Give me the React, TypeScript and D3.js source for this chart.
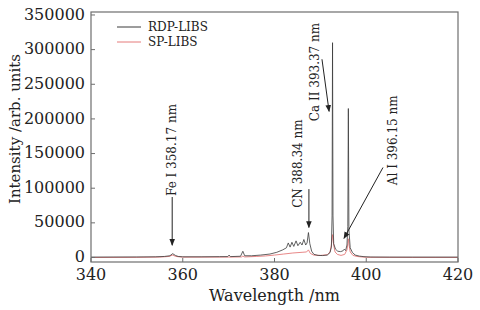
import React from "react";
import * as d3 from "d3";

const W = 480;
const H = 310;

// RDP-LIBS spectrum (wavelength nm, intensity)
const rdpWavelength = [340, 345, 350, 354, 356, 357.2, 357.8, 358.4, 359, 360, 364, 368, 369.8, 370.1, 370.4, 372.6, 373.1, 373.5, 375, 377, 379, 380.5, 381.8, 382.6, 383.0, 383.4, 383.8, 384.2, 384.7, 385.1, 385.6, 386.0, 386.4, 386.8, 387.1, 387.4, 387.7, 388.1, 388.6, 389.5, 390.5, 391.5, 392.1, 392.4, 392.55, 392.65, 392.75, 392.9, 393.3, 393.8, 394.4, 394.9, 395.2, 395.5, 395.8, 395.98, 396.1, 396.22, 396.5, 397, 397.6, 398.5, 399.5, 401, 405, 410, 415, 420];
const rdpIntensity = [600, 700, 800, 1000, 1500, 2500, 5500, 3000, 1500, 1000, 1000, 1200, 1300, 3500, 1300, 1800, 9000, 2500, 2500, 3500, 5000, 7500, 11000, 14000, 21000, 15000, 22000, 16000, 24000, 17000, 22000, 18000, 26000, 18000, 21000, 36000, 20000, 9000, 4500, 3000, 2800, 3500, 7000, 15000, 60000, 310000, 60000, 20000, 12000, 9000, 8500, 9500, 12000, 10000, 18000, 45000, 215000, 40000, 14000, 7000, 3500, 2000, 1200, 700, 600, 600, 600, 600];

// SP-LIBS spectrum
const spWavelength = [340, 350, 355, 357, 357.8, 358.5, 360, 370, 372.8, 373.1, 373.5, 376, 378, 380, 382, 384, 386, 387.0, 387.4, 387.8, 388.5, 390, 391.5, 392.1, 392.4, 392.65, 392.9, 393.2, 393.7, 394.5, 395.3, 395.8, 396.0, 396.1, 396.25, 396.5, 397.1, 398, 399, 400, 410, 420];
const spIntensity = [0, 200, 600, 1500, 3500, 1500, 500, 600, 800, 2000, 800, 1500, 2200, 3500, 5000, 6500, 7500, 8000, 11000, 6000, 3500, 3000, 4000, 8000, 18000, 33000, 18000, 8000, 4500, 3000, 4500, 11000, 20000, 27000, 18000, 8000, 3000, 1500, 800, 300, 100, 100];

const xTicks = [340, 360, 380, 400, 420];
const yTicks = [0, 50000, 100000, 150000, 200000, 250000, 300000, 350000];

const seriesNames = ["RDP-LIBS", "SP-LIBS"];
const seriesColors = ["#3a3a3a", "#e57a7a"];

// annotations: label, text anchor position (lambda, intensity), arrow tail, arrow tip
const annLabels = ["Fe I 358.17 nm", "CN 388.34 nm", "Ca II 393.37 nm", "Al I 396.15 nm"];
const annText = [[357.66, 88700], [385.1, 71700], [388.8, 196700], [405.8, 104400]];
const annTail = [[357.7, 87300], [387.5, 98700], [390.35, 286100], [403.65, 129900]];
const annTip = [[357.7, 17750], [387.5, 43300], [391.9, 210900], [395.15, 27700]];

const FONT = "'DejaVu Serif', serif";

export default function App() {
  const left = 91, right = 458, top = 12, bottom = 262;
  const x = d3.scaleLinear().domain([340, 420]).range([left, right]);
  const y = d3.scaleLinear().domain([-6500, 354300]).range([bottom, top]);

  const line = d3
    .line<[number, number]>()
    .x((d) => x(d[0]))
    .y((d) => y(d[1]));

  const rdp: [number, number][] = rdpWavelength.map((w, i) => [w, rdpIntensity[i]]);
  const sp: [number, number][] = spWavelength.map((w, i) => [w, spIntensity[i]]);

  const axisColor = "#6e6e6e";
  const textColor = "#222";

  return (
    <svg width={W} height={H} style={{ position: "absolute", left: 0, top: 0 }}>
      <defs>
        <marker id="arr" viewBox="0 0 10 10" refX="9" refY="5" markerWidth="7" markerHeight="7" orient="auto" markerUnits="userSpaceOnUse">
          <path d="M0,1 L10,5 L0,9 Z" fill="#222" />
        </marker>
      </defs>
      <rect x={0} y={0} width={W} height={H} fill="#fff" />
      {/* spectra */}
      <path d={line(sp) || ""} fill="none" stroke={seriesColors[1]} strokeWidth={0.9} />
      <path d={line(rdp) || ""} fill="none" stroke={seriesColors[0]} strokeWidth={0.8} />
      {/* frame */}
      <rect x={left} y={top} width={right - left} height={bottom - top} fill="none" stroke={axisColor} strokeWidth={1.2} />
      {/* x ticks */}
      {xTicks.map((t) => (
        <g key={"x" + t}>
          <line x1={x(t)} x2={x(t)} y1={bottom} y2={bottom - 4} stroke={axisColor} />
          <text x={x(t)} y={bottom + 18} textAnchor="middle" fontFamily={FONT} fontSize={16} fill={textColor}>
            {t}
          </text>
        </g>
      ))}
      {/* y ticks */}
      {yTicks.map((t) => (
        <g key={"y" + t}>
          <line x1={left} x2={left + 4} y1={y(t)} y2={y(t)} stroke={axisColor} />
          <text x={left - 6} y={y(t) - 1} dy="0.35em" textAnchor="end" fontFamily={FONT} fontSize={16} fill={textColor}>
            {t}
          </text>
        </g>
      ))}
      {/* axis titles */}
      <text x={(left + right) / 2} y={301} textAnchor="middle" fontFamily={FONT} fontSize={16} fill={textColor}>
        Wavelength /nm
      </text>
      <text transform={`translate(20,${(top + bottom) / 2 - 8}) rotate(-90)`} textAnchor="middle" fontFamily={FONT} fontSize={15} fill={textColor}>
        Intensity /arb. units
      </text>
      {/* legend */}
      {seriesNames.map((n, i) => (
        <g key={n}>
          <line x1={117} x2={141} y1={27 + i * 15} y2={27 + i * 15} stroke={seriesColors[i]} strokeWidth={1} />
          <text x={148} y={27 + i * 15} dy="0.35em" fontFamily={FONT} fontSize={12} fill={textColor}>
            {n}
          </text>
        </g>
      ))}
      {/* annotations */}
      {annLabels.map((lab, i) => (
        <g key={lab}>
          <text
            transform={`translate(${x(annText[i][0])},${y(annText[i][1])}) rotate(-90)`}
            dy="0.35em"
            textAnchor="start"
            fontFamily={FONT}
            fontSize={12}
            fill={textColor}
          >
            {lab}
          </text>
          <line
            x1={x(annTail[i][0])}
            y1={y(annTail[i][1])}
            x2={x(annTip[i][0])}
            y2={y(annTip[i][1])}
            stroke="#222"
            strokeWidth={1}
            markerEnd="url(#arr)"
          />
        </g>
      ))}
    </svg>
  );
}
